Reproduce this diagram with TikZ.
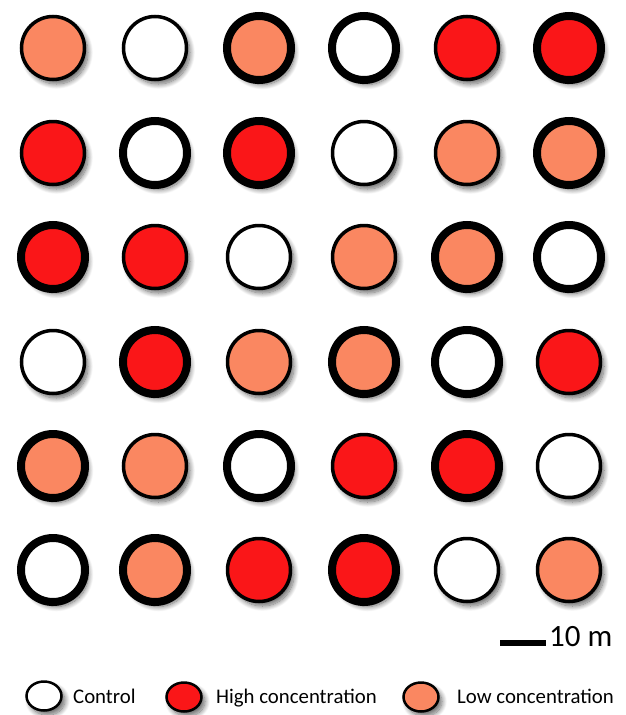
\documentclass[tikz,border=0pt]{standalone}
\usepackage{fontspec}
\setmainfont{Carlito}
\usetikzlibrary{shapes.geometric,shadows.blur}
\definecolor{lowc}{RGB}{250,135,97}
\definecolor{highc}{RGB}{250,22,24}
\tikzset{
  sh/.style={blur shadow={shadow xshift=3.5pt,shadow yshift=-4.5pt,shadow blur radius=5pt,shadow opacity=60,shadow blur steps=12}},
  thin/.style={circle,draw=black,line width=3.5pt,minimum size=63pt,inner sep=0pt,sh},
  thick/.style={circle,draw=black,line width=8pt,minimum size=64pt,inner sep=0pt,sh},
  ctl/.style={fill=white},
  hi/.style={fill=highc},
  lo/.style={fill=lowc},
  leg/.style={ellipse,draw=black,line width=2.5pt,minimum width=35pt,minimum height=29pt,inner sep=0pt,sh},
  legtext/.style={anchor=base west,font=\fontsize{20.8}{23}\selectfont,inner sep=0pt}
}
\begin{document}
\begin{tikzpicture}[x=1pt,y=-1pt]
\useasboundingbox (0,0) rectangle (625,715);
% row 1
\node[thin,lo]   (c11) at (53,48) {};
\node[thin,ctl]  (c12) at (155,48) {};
\node[thick,lo]  (c13) at (259,48) {};
\node[thick,ctl] (c14) at (364,48) {};
\node[thin,hi]   (c15) at (467,48) {};
\node[thick,hi]  (c16) at (569,48) {};
% row 2
\node[thin,hi]   (c21) at (53,153) {};
\node[thick,ctl] (c22) at (155,153) {};
\node[thick,hi]  (c23) at (259,153) {};
\node[thin,ctl]  (c24) at (364,153) {};
\node[thin,lo]   (c25) at (467,153) {};
\node[thick,lo]  (c26) at (569,153) {};
% row 3
\node[thick,hi]  (c31) at (53,257) {};
\node[thin,hi]   (c32) at (155,257) {};
\node[thin,ctl]  (c33) at (259,257) {};
\node[thin,lo]   (c34) at (364,257) {};
\node[thick,lo]  (c35) at (467,257) {};
\node[thick,ctl] (c36) at (569,257) {};
% row 4
\node[thin,ctl]  (c41) at (53,362) {};
\node[thick,hi]  (c42) at (155,362) {};
\node[thin,lo]   (c43) at (259,362) {};
\node[thick,lo]  (c44) at (364,362) {};
\node[thick,ctl] (c45) at (467,362) {};
\node[thin,hi]   (c46) at (569,362) {};
% row 5
\node[thick,lo]  (c51) at (53,466) {};
\node[thin,lo]   (c52) at (155,466) {};
\node[thick,ctl] (c53) at (259,466) {};
\node[thin,hi]   (c54) at (364,466) {};
\node[thick,hi]  (c55) at (467,466) {};
\node[thin,ctl]  (c56) at (569,466) {};
% row 6
\node[thick,ctl] (c61) at (53,570) {};
\node[thick,lo]  (c62) at (155,570) {};
\node[thin,hi]   (c63) at (259,570) {};
\node[thick,hi]  (c64) at (364,570) {};
\node[thin,ctl]  (c65) at (467,570) {};
\node[thin,lo]   (c66) at (569,570) {};
% scale bar
\coordinate (sbA) at (500,643);
\coordinate (sbB) at (546,643);
\draw[line width=6pt] (sbA) -- (sbB);
\node[anchor=base west,font=\fontsize{31}{34}\selectfont,inner sep=0pt] (sblabel) at (549,646) {10 m};
% legend
\node[leg,fill=white] (lgc) at (44,696) {};
\node[legtext] (lgct) at (73,703) {Control};
\node[leg,fill=highc] (lgh) at (184,697) {};
\node[legtext] (lght) at (216,703) {High concentration};
\node[leg,fill=lowc] (lgl) at (421,697) {};
\node[legtext] (lglt) at (457,703) {Low concentration};
\end{tikzpicture}
\end{document}
